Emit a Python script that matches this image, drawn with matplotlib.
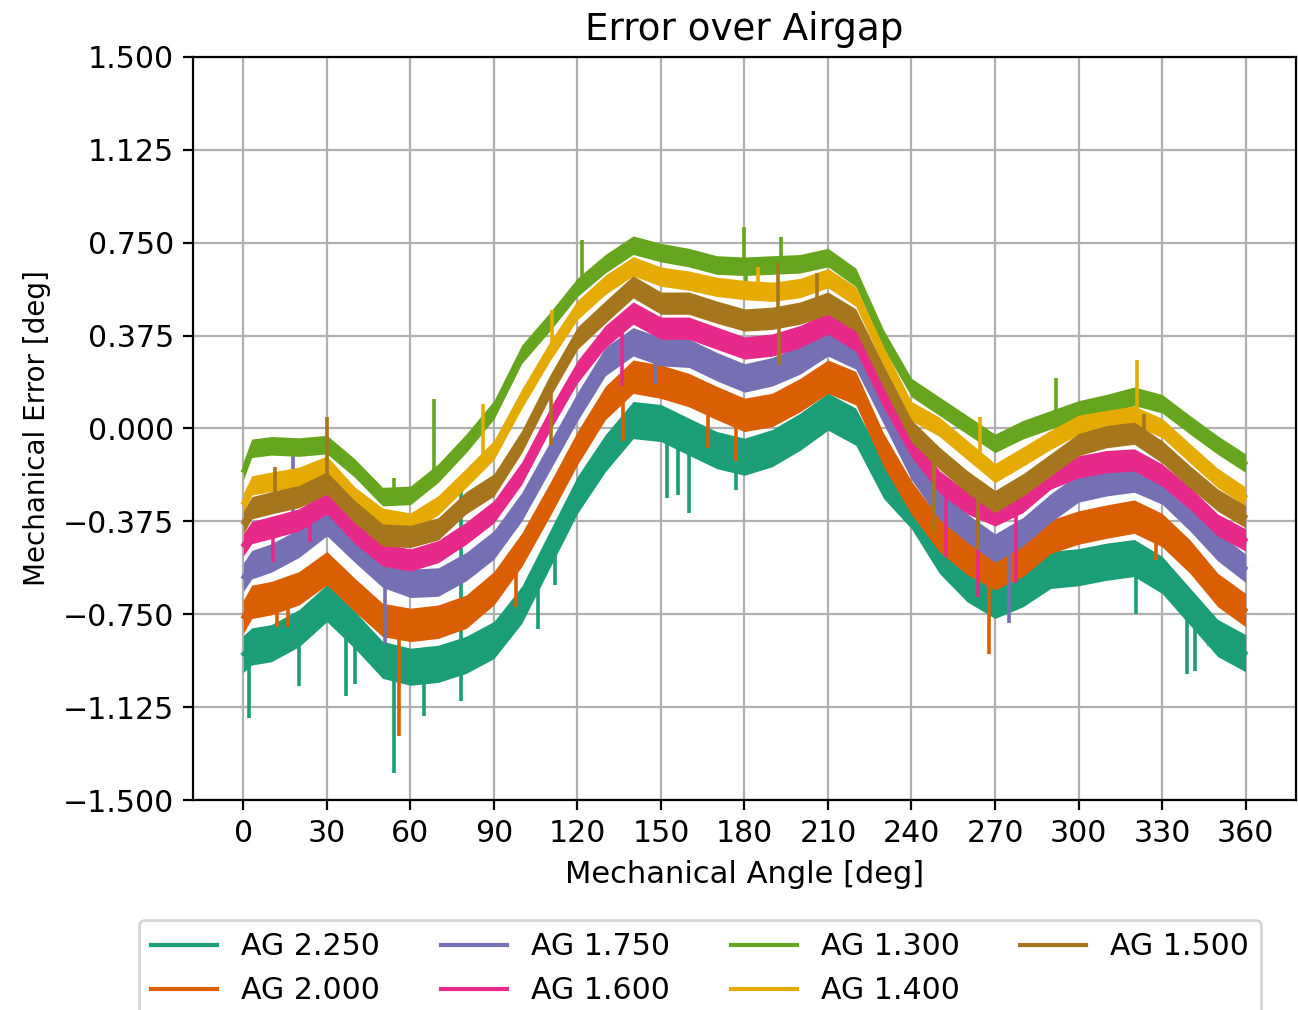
import matplotlib
matplotlib.use("Agg")
import matplotlib.pyplot as plt
import numpy as np

# mechanical angle samples [deg]
angle = [0, 3, 10, 20, 30, 40, 50, 60, 70, 80, 90, 100, 110, 120, 130, 140, 150, 160, 170,
         180, 190, 200, 210, 220, 230, 240, 250, 260, 270, 280, 290, 300, 310, 320, 330, 340, 350, 360]

# centre of the error trace for each airgap [deg]
ag_2250 = [-0.91, -0.88, -0.867, -0.806, -0.705, -0.813, -0.934, -0.962, -0.95, -0.914, -0.854, -0.712, -0.49,
           -0.268, -0.10, 0.034, 0.022, -0.033, -0.087, -0.114, -0.079, -0.013, 0.068, 0.007, -0.208, -0.33,
           -0.51, -0.625, -0.692, -0.645, -0.571, -0.56, -0.538, -0.523, -0.591, -0.719, -0.846, -0.907]
ag_2000 = [-0.76, -0.70, -0.685, -0.645, -0.564, -0.672, -0.773, -0.793, -0.78, -0.74, -0.645, -0.49, -0.289,
           -0.079, 0.103, 0.209, 0.189, 0.155, 0.103, 0.055, 0.075, 0.135, 0.209, 0.163, -0.087, -0.28,
           -0.43, -0.523, -0.584, -0.531, -0.437, -0.40, -0.376, -0.356, -0.41, -0.517, -0.652, -0.733]
ag_1750 = [-0.60, -0.55, -0.523, -0.463, -0.376, -0.483, -0.584, -0.625, -0.62, -0.558, -0.47, -0.316, -0.114,
           0.088, 0.27, 0.35, 0.31, 0.304, 0.25, 0.204, 0.229, 0.277, 0.35, 0.297, 0.075, -0.15,
           -0.309, -0.402, -0.483, -0.417, -0.321, -0.24, -0.215, -0.20, -0.248, -0.356, -0.477, -0.564]
ag_1600 = [-0.47, -0.42, -0.40, -0.369, -0.30, -0.42, -0.51, -0.531, -0.497, -0.423, -0.336, -0.18, 0.034,
           0.229, 0.371, 0.466, 0.405, 0.405, 0.365, 0.325, 0.337, 0.371, 0.426, 0.357, 0.128, -0.07,
           -0.215, -0.30, -0.349, -0.295, -0.20, -0.155, -0.134, -0.127, -0.188, -0.281, -0.39, -0.45]
ag_1300 = [-0.17, -0.08, -0.07, -0.075, -0.065, -0.16, -0.275, -0.27, -0.18, -0.06, 0.075, 0.30, 0.43,
           0.57, 0.665, 0.74, 0.71, 0.69, 0.66, 0.655, 0.66, 0.665, 0.69, 0.61, 0.36, 0.165,
           0.09, 0.015, -0.06, -0.005, 0.035, 0.075, 0.10, 0.13, 0.10, 0.015, -0.067, -0.14]
ag_1400 = [-0.30, -0.23, -0.215, -0.195, -0.15, -0.275, -0.36, -0.38, -0.31, -0.20, -0.087, 0.12, 0.31,
           0.478, 0.58, 0.655, 0.613, 0.597, 0.572, 0.559, 0.552, 0.567, 0.607, 0.532, 0.29, 0.07,
           0.007, -0.087, -0.18, -0.114, -0.046, 0.015, 0.034, 0.052, 0.002, -0.10, -0.20, -0.275]
ag_1500 = [-0.38, -0.32, -0.30, -0.275, -0.22, -0.336, -0.43, -0.436, -0.405, -0.30, -0.228, -0.053, 0.169,
           0.365, 0.47, 0.572, 0.506, 0.506, 0.47, 0.438, 0.445, 0.466, 0.506, 0.438, 0.209, -0.01,
           -0.12, -0.215, -0.295, -0.228, -0.147, -0.065, -0.033, -0.019, -0.094, -0.195, -0.289, -0.356]

# peak-to-peak width of the noise band [deg]
noise_pp = [0.15, 0.135, 0.115, 0.09, 0.075, 0.078, 0.09]

# single-sample outliers: (angle, value)
spikes_2250 = [(2, -1.17), (20, -1.04), (37, -1.08), (40, -1.03), (54, -1.39), (65, -1.16), (78, -1.10),
               (78, -0.25), (106, -0.81), (112, -0.63), (152, -0.28), (156, -0.27), (160, -0.34),
               (177, -0.25), (264, -0.72), (320.5, -0.75), (339, -0.99), (342, -0.98), (347, -0.88)]
spikes_2000 = [(12, -0.80), (16, -0.80), (56, -1.24), (98, -0.72), (136.5, -0.05), (167, -0.08),
               (177, -0.13), (268, -0.91), (328, -0.53)]
spikes_1750 = [(18, -0.11), (51, -0.87), (148, 0.18), (275, -0.785)]
spikes_1600 = [(10.5, -0.54), (24, -0.46), (136, 0.17), (252.5, -0.52), (264, -0.68), (277.5, -0.625)]
spikes_1300 = [(54, -0.20), (68.5, 0.12), (121.5, 0.76), (180, 0.815), (180.5, 0.56), (193, 0.774),
               (292, 0.204)]
spikes_1400 = [(86, 0.10), (111, 0.478), (185, 0.65), (264.5, 0.048), (321, 0.277)]
spikes_1500 = [(11.5, -0.155), (30, 0.048), (110.5, -0.067), (192, 0.667), (192.5, 0.256), (206, 0.627),
               (248, -0.42), (264, -0.49), (323.5, 0.06)]

labels = ['AG 2.250', 'AG 2.000', 'AG 1.750', 'AG 1.600', 'AG 1.300', 'AG 1.400', 'AG 1.500']
series = [ag_2250, ag_2000, ag_1750, ag_1600, ag_1300, ag_1400, ag_1500]
spikes = [spikes_2250, spikes_2000, spikes_1750, spikes_1600, spikes_1300, spikes_1400, spikes_1500]
colors = plt.get_cmap('Dark2').colors

fig = plt.figure(figsize=(6.49, 5.05), dpi=200)
ax = fig.add_axes([0.1489, 0.2079, 0.9982 - 0.1489, 0.9436 - 0.2079])

x = np.array(angle)
for i, (lab, y, sp) in enumerate(zip(labels, series, spikes)):
    y = np.array(y)
    c = colors[i]
    half = noise_pp[i] / 2
    ax.fill_between(x, y - half, y + half, color=c, lw=0, zorder=2 + i)
    ax.plot(x, y, color=c, lw=1.5, label=lab, zorder=2 + i)
    sa = [s[0] for s in sp]
    sv = [s[1] for s in sp]
    ax.vlines(sa, np.interp(sa, x, y), sv, color=c, lw=1.3, zorder=2 + i)

ax.set_xlim(-18, 378)
ax.set_ylim(-1.5, 1.5)
ax.set_xticks(np.arange(0, 361, 30))
ax.set_yticks(np.linspace(-1.5, 1.5, 9))
ax.yaxis.set_major_formatter(matplotlib.ticker.FuncFormatter(
    lambda v, pos: ('%.3f' % v).replace('-', '\u2212')))
ax.tick_params(labelsize=10.8)
ax.grid(True)
ax.set_axisbelow(True)
ax.set_title('Error over Airgap', fontsize=13.4)
ax.set_xlabel('Mechanical Angle [deg]', fontsize=11)
ax.set_ylabel('Mechanical Error [deg]', fontsize=10)

fig.legend(loc='upper center', bbox_to_anchor=(700 / 1298, 1 - 920 / 1010), ncol=4,
           fontsize=10.8, columnspacing=2.03, handlelength=2.2, borderaxespad=0)

plt.savefig('out.png', dpi=200)
